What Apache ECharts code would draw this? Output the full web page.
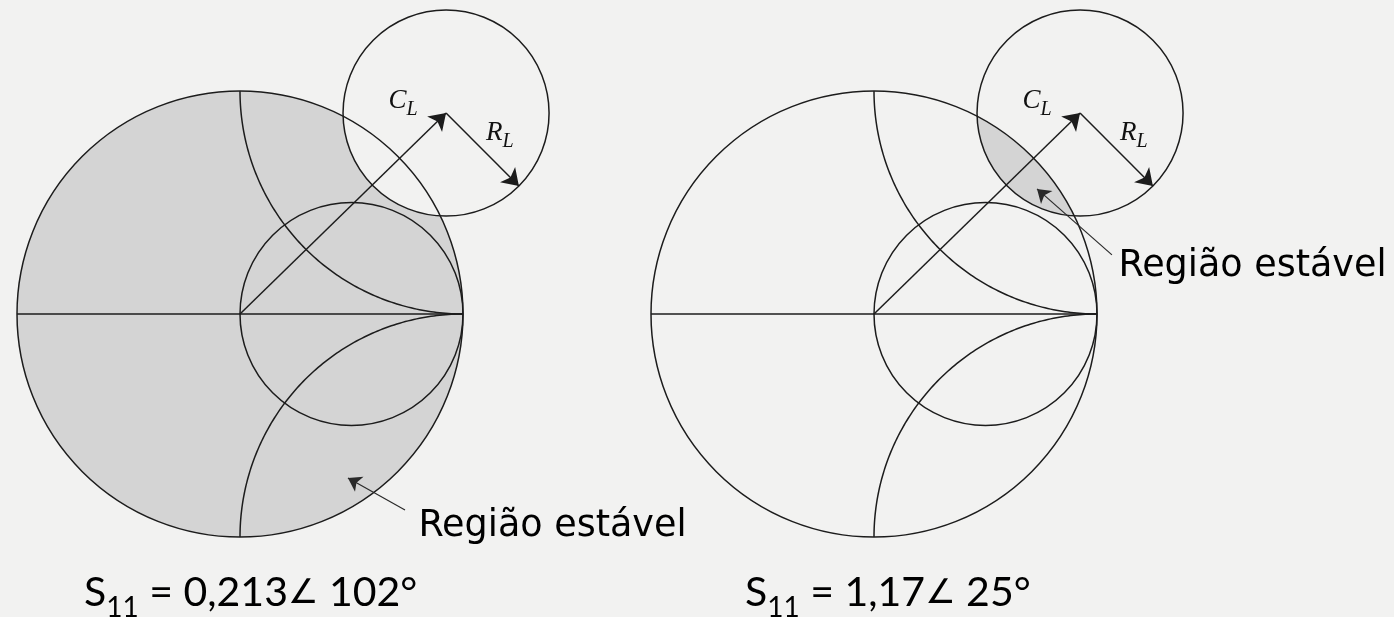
<!DOCTYPE html>
<html>
<head>
<meta charset="utf-8">
<script src="https://cdn.jsdelivr.net/npm/echarts@6/dist/echarts.min.js"></script>
<style>
  html, body { margin: 0; padding: 0; background: #f2f2f1; }
  #chart { width: 1394px; height: 617px; }
</style>
</head>
<body>
<div id="chart"></div>
<script>
// unit = radius of the Smith chart (|gamma| = 1)
const smithRadius = 1;
const realAxis = [[-1, 0], [1, 0]];
const resistanceCircle = [0.5, 0, 0.5];
const reactanceArcs = [[1, 1, 1], [1, -1, 1]];
const stabilityCircle = [0.924, 0.901, 0.462]; // C_L x, y, R_L
const stableRegion = ["outside", "inside"];
const s11Text = [["0,213", "102°"], ["1,17", "25°"]];
const regionPointer = [
  [[0.74, -0.879], [0.484, -0.735]],
  [[1.067, 0.265], [0.731, 0.561]],
];
const regionLabelAt = [[0.8, -0.955], [1.096, 0.212]];
const clLabelAt = [0.731, 0.945];
const rlLabelAt = [1.165, 0.8];

const lineColor = "#1c1c1c";
const fillColor = "#d4d4d4";
const px = 223; // pixels per unit
const centers = [[240, 314], [874, 314]];

const chart = echarts.init(document.getElementById("chart"));

// angles of the crossing points of circle a with circle b
function meet(a, b) {
  const dx = b[0] - a[0];
  const dy = b[1] - a[1];
  const d = Math.hypot(dx, dy);
  const t = Math.atan2(dy, dx);
  return {
    t,
    al: Math.acos((a[2] * a[2] + d * d - b[2] * b[2]) / (2 * a[2] * d)),
    p: t + Math.PI,
    be: Math.acos((b[2] * b[2] + d * d - a[2] * a[2]) / (2 * b[2] * d)),
  };
}

function arcPts(c, a0, a1, api) {
  const pts = [];
  const n = 120;
  for (let i = 0; i <= n; i++) {
    const a = a0 + ((a1 - a0) * i) / n;
    pts.push(api.coord([c[0] + c[2] * Math.cos(a), c[1] + c[2] * Math.sin(a)]));
  }
  return pts;
}

function panel(i) {
  const smith = [0, 0, smithRadius];
  const mode = stableRegion[i];
  const ax = { xAxisIndex: i, yAxisIndex: i };
  return [
    {
      type: "custom",
      ...ax,
      silent: true,
      data: [stabilityCircle],
      renderItem(params, api) {
        const s = [api.value(0), api.value(1), api.value(2)];
        const m = meet(smith, s);
        let pts;
        if (mode === "inside") {
          pts = arcPts(smith, m.t - m.al, m.t + m.al, api).concat(
            arcPts(s, m.p - m.be, m.p + m.be, api)
          );
        } else {
          pts = arcPts(smith, m.t + m.al, m.t - m.al + 2 * Math.PI, api).concat(
            arcPts(s, m.p + m.be, m.p - m.be, api)
          );
        }
        return {
          type: "polygon",
          shape: { points: pts },
          style: { fill: fillColor, stroke: null },
        };
      },
    },
    {
      type: "custom",
      ...ax,
      silent: true,
      data: [[0, 0, smithRadius], resistanceCircle, stabilityCircle],
      renderItem(params, api) {
        const c = api.coord([api.value(0), api.value(1)]);
        const r = api.size([api.value(2), 0])[0];
        return {
          type: "circle",
          shape: { cx: c[0], cy: c[1], r },
          style: { fill: null, stroke: lineColor, lineWidth: 1.5 },
        };
      },
    },
    {
      type: "custom",
      ...ax,
      silent: true,
      data: reactanceArcs,
      renderItem(params, api) {
        const b = [api.value(0), api.value(1), api.value(2)];
        const m = meet(smith, b);
        return {
          type: "polyline",
          shape: { points: arcPts(b, m.p - m.be, m.p + m.be, api) },
          style: { fill: null, stroke: lineColor, lineWidth: 1.5 },
        };
      },
    },
    {
      type: "lines",
      coordinateSystem: "cartesian2d",
      ...ax,
      silent: true,
      symbol: "none",
      lineStyle: { color: lineColor, width: 1.5, opacity: 1 },
      data: [{ coords: realAxis }],
    },
    {
      type: "lines",
      coordinateSystem: "cartesian2d",
      ...ax,
      silent: true,
      symbol: ["none", "arrow"],
      symbolSize: [9, 16],
      lineStyle: { color: lineColor, width: 1.5, opacity: 1 },
      data: [
        { coords: [[0, 0], stabilityCircle.slice(0, 2)] },
        {
          coords: [
            stabilityCircle.slice(0, 2),
            [
              stabilityCircle[0] + stabilityCircle[2] * Math.SQRT1_2,
              stabilityCircle[1] - stabilityCircle[2] * Math.SQRT1_2,
            ],
          ],
        },
      ],
    },
    {
      type: "lines",
      coordinateSystem: "cartesian2d",
      ...ax,
      silent: true,
      symbol: ["none", "arrow"],
      symbolSize: [7, 13],
      lineStyle: { color: "#2a2a2a", width: 1.2, opacity: 1 },
      data: [{ coords: regionPointer[i] }],
    },
    {
      type: "scatter",
      ...ax,
      silent: true,
      symbolSize: 0,
      itemStyle: { opacity: 1 },
      data: [
        {
          value: clLabelAt,
          label: { formatter: "{v|C}{s|L}" },
        },
        {
          value: rlLabelAt,
          label: { formatter: "{v|R}{s|L}" },
        },
        {
          value: regionLabelAt[i],
          label: {
            position: "right",
            distance: 0,
            formatter: "Região estável",
            color: "#000",
            fontFamily: "'DejaVu Sans', sans-serif",
            fontSize: 36.5,
          },
        },
      ],
      label: {
        show: true,
        position: "inside",
        rich: {
          v: {
            fontFamily: "'Liberation Serif', serif",
            fontStyle: "italic",
            fontSize: 27,
            color: "#111",
            verticalAlign: "bottom",
            padding: [0, 0, 5, 0],
          },
          s: {
            fontFamily: "'Liberation Serif', serif",
            fontStyle: "italic",
            fontSize: 20,
            color: "#111",
            verticalAlign: "bottom",
          },
        },
      },
    },
  ];
}

function grid(i) {
  return {
    left: centers[i][0] - px,
    top: centers[i][1] - 1.4 * px,
    width: 2.5 * px,
    height: 2.4 * px,
  };
}

function axis(min, max, i) {
  return { type: "value", gridIndex: i, min, max, show: false, splitLine: { show: false } };
}

const titleColor = "#45292e";
const titleRich = {
  t: {
    fontFamily: "Lato, sans-serif",
    fontSize: 41,
    color: titleColor,
    verticalAlign: "bottom",
    padding: [0, 0, 9, 0],
  },
  ang: {
    fontFamily: "'DejaVu Sans', sans-serif",
    fontSize: 34,
    color: titleColor,
    verticalAlign: "bottom",
    padding: [0, 0, 11, 0],
  },
  sub: {
    fontFamily: "Lato, sans-serif",
    fontSize: 28,
    color: titleColor,
    verticalAlign: "bottom",
  },
};

chart.setOption({
  backgroundColor: "#f2f2f1",
  animation: false,
  grid: [grid(0), grid(1)],
  xAxis: [axis(-1, 1.5, 0), axis(-1, 1.5, 1)],
  yAxis: [axis(-1, 1.4, 0), axis(-1, 1.4, 1)],
  graphic: s11Text.map((txt, i) => ({
    type: "text",
    left: [84, 745][i],
    top: 572,
    style: {
      text: "{t|S}{sub|11}{t| = " + txt[0] + "}{ang|∠}{t| " + txt[1] + "}",
      rich: titleRich,
    },
  })),
  series: panel(0).concat(panel(1)),
});
</script>
</body>
</html>
